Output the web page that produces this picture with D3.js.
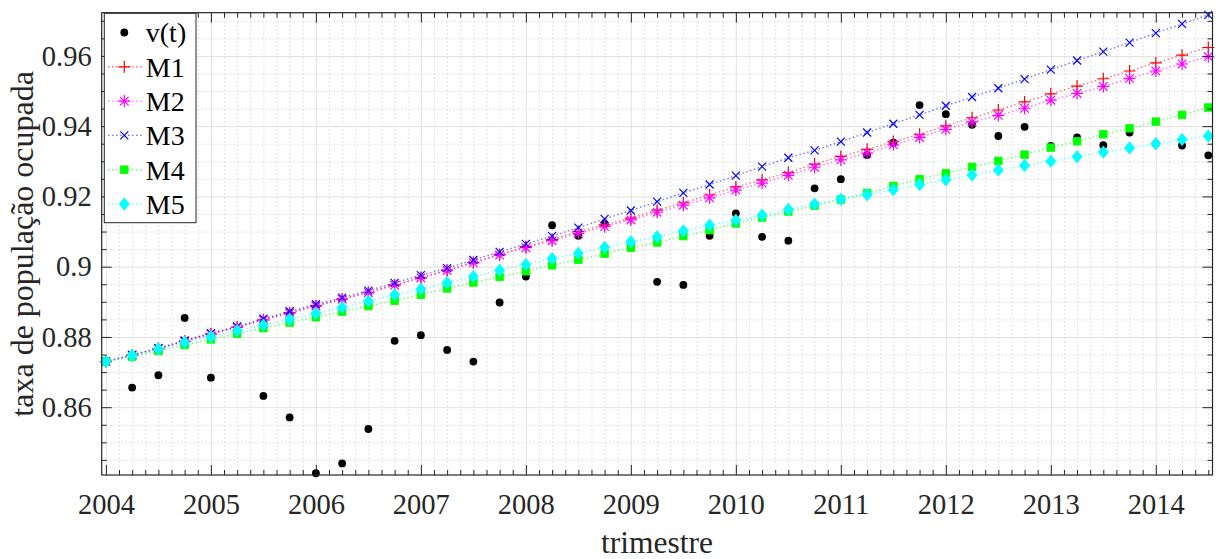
<!DOCTYPE html>
<html>
<head>
<meta charset="utf-8">
<script src="https://cdn.jsdelivr.net/npm/d3@7"></script>
<style>
  body { margin: 0; background: #fff; }
  svg { display: block; font-family: "Liberation Serif", "Times New Roman", serif; }
</style>
</head>
<body>
<div id="chart"></div>
<script>
// quarters (x values)
const quarters = [2004, 2004.25, 2004.5, 2004.75, 2005, 2005.25, 2005.5, 2005.75,
  2006, 2006.25, 2006.5, 2006.75, 2007, 2007.25, 2007.5, 2007.75,
  2008, 2008.25, 2008.5, 2008.75, 2009, 2009.25, 2009.5, 2009.75,
  2010, 2010.25, 2010.5, 2010.75, 2011, 2011.25, 2011.5, 2011.75,
  2012, 2012.25, 2012.5, 2012.75, 2013, 2013.25, 2013.5, 2013.75,
  2014, 2014.25, 2014.5];

// observed rate v(t)
const vObs = [0.8730, 0.8656, 0.8691, 0.8854, 0.8684, 0.8814, 0.8632, 0.8571,
  0.8412, 0.8440, 0.8538, 0.8789, 0.8805, 0.8763, 0.8730, 0.8898,
  0.8972, 0.9118, 0.9088, 0.9122, 0.9058, 0.8957, 0.8948, 0.9088,
  0.9152, 0.9085, 0.9074, 0.9223, 0.9249, 0.9318, 0.9353, 0.9460,
  0.9434, 0.9404, 0.9372, 0.9398, 0.9344, 0.9368, 0.9346, 0.9382,
  0.9350, 0.9345, 0.9317];

const m1 = [0.8730, 0.8748, 0.8767, 0.8788, 0.8809, 0.8828, 0.8849, 0.8869,
  0.8889, 0.8908, 0.8927, 0.8948, 0.8969, 0.8990, 0.9012, 0.9035,
  0.9057, 0.9078, 0.9100, 0.9119, 0.9138, 0.9161, 0.9182, 0.9204,
  0.9227, 0.9247, 0.9268, 0.9292, 0.9314, 0.9334, 0.9356, 0.9377,
  0.9401, 0.9424, 0.9446, 0.9469, 0.9492, 0.9514, 0.9535, 0.9557,
  0.9580, 0.9602, 0.9624];

const m2 = [0.8730, 0.8748, 0.8767, 0.8787, 0.8808, 0.8827, 0.8848, 0.8868,
  0.8888, 0.8907, 0.8926, 0.8947, 0.8968, 0.8989, 0.9011, 0.9033,
  0.9054, 0.9074, 0.9095, 0.9114, 0.9133, 0.9155, 0.9175, 0.9196,
  0.9218, 0.9238, 0.9260, 0.9283, 0.9304, 0.9323, 0.9347, 0.9368,
  0.9391, 0.9412, 0.9431, 0.9451, 0.9474, 0.9493, 0.9513, 0.9536,
  0.9557, 0.9577, 0.9598];

const m3 = [0.8730, 0.8749, 0.8768, 0.8790, 0.8811, 0.8830, 0.8852, 0.8873,
  0.8893, 0.8912, 0.8932, 0.8954, 0.8976, 0.8996, 0.9019, 0.9042,
  0.9065, 0.9087, 0.9111, 0.9136, 0.9160, 0.9185, 0.9210, 0.9234,
  0.9259, 0.9285, 0.9310, 0.9331, 0.9356, 0.9382, 0.9407, 0.9432,
  0.9458, 0.9483, 0.9508, 0.9534, 0.9561, 0.9587, 0.9612, 0.9638,
  0.9665, 0.9691, 0.9717];

const m4 = [0.8730, 0.8744, 0.8760, 0.8777, 0.8793, 0.8809, 0.8825, 0.8841,
  0.8856, 0.8872, 0.8888, 0.8903, 0.8920, 0.8938, 0.8955, 0.8971,
  0.8987, 0.9004, 0.9020, 0.9037, 0.9054, 0.9069, 0.9087, 0.9104,
  0.9123, 0.9140, 0.9157, 0.9174, 0.9191, 0.9210, 0.9230, 0.9249,
  0.9266, 0.9284, 0.9301, 0.9319, 0.9339, 0.9357, 0.9377, 0.9394,
  0.9413, 0.9432, 0.9453];

const m5 = [0.8730, 0.8747, 0.8766, 0.8784, 0.8801, 0.8818, 0.8834, 0.8850,
  0.8867, 0.8884, 0.8902, 0.8920, 0.8936, 0.8954, 0.8972, 0.8990,
  0.9006, 0.9023, 0.9038, 0.9055, 0.9071, 0.9085, 0.9102, 0.9118,
  0.9132, 0.9147, 0.9163, 0.9178, 0.9192, 0.9205, 0.9219, 0.9234,
  0.9247, 0.9261, 0.9275, 0.9288, 0.9300, 0.9313, 0.9326, 0.9338,
  0.9350, 0.9362, 0.9372];

const seriesNames = ['v(t)', 'M1', 'M2', 'M3', 'M4', 'M5'];
const yearTicks = [2004, 2005, 2006, 2007, 2008, 2009, 2010, 2011, 2012, 2013, 2014];
const yTicks = [0.86, 0.88, 0.90, 0.92, 0.94, 0.96];
const yTickLabels = ['0.86', '0.88', '0.9', '0.92', '0.94', '0.96'];
const xLabel = 'trimestre';
const yLabel = 'taxa de população ocupada';

// styling per series
const styles = [
  {color: '#000000', marker: 'dot', line: false},
  {color: '#ff0000', marker: 'plus', line: true},
  {color: '#ff00ff', marker: 'star', line: true},
  {color: '#0000ff', marker: 'cross', line: true},
  {color: '#00ff00', marker: 'square', line: true},
  {color: '#00ffff', marker: 'diamond', line: true}
];
const seriesValues = [vObs, m1, m2, m3, m4, m5];

const config = {
  containerWidth: 1216,
  containerHeight: 559,
  margin: {top: 12.7, right: 3.5, bottom: 84, left: 101.7}
};
const width = config.containerWidth - config.margin.left - config.margin.right;
const height = config.containerHeight - config.margin.top - config.margin.bottom;

const svg = d3.select('#chart').append('svg')
  .attr('width', config.containerWidth)
  .attr('height', config.containerHeight);

const chart = svg.append('g')
  .attr('transform', `translate(${config.margin.left},${config.margin.top})`);

const x = d3.scaleLinear().domain([2003.96, 2014.54]).range([0, width]);
const y = d3.scaleLinear().domain([0.8407, 0.9723]).range([height, 0]);

const xMinor = d3.range(2004, 2014.5001, 0.125).filter(d => d % 1 !== 0);
const yMinor = d3.range(0.845, 0.9701, 0.005).filter(d => Math.abs(d * 50 - Math.round(d * 50)) > 1e-6);

// minor grid (dotted)
chart.append('g').attr('class', 'grid-minor')
  .attr('transform', `translate(0,${height})`)
  .call(d3.axisBottom(x).tickValues(xMinor).tickSize(-height).tickFormat(''));
chart.append('g').attr('class', 'grid-minor')
  .call(d3.axisLeft(y).tickValues(yMinor).tickSize(-width).tickFormat(''));
chart.selectAll('.grid-minor line')
  .attr('stroke', '#cfcfcf').attr('stroke-width', 0.8).attr('stroke-dasharray', '1.5,2.5');

// major grid
chart.append('g').attr('class', 'grid-major')
  .attr('transform', `translate(0,${height})`)
  .call(d3.axisBottom(x).tickValues(yearTicks).tickSize(-height).tickFormat(''));
chart.append('g').attr('class', 'grid-major')
  .call(d3.axisLeft(y).tickValues(yTicks).tickSize(-width).tickFormat(''));
chart.selectAll('.grid-major line').attr('stroke', '#e1e1e1').attr('stroke-width', 1);
chart.selectAll('.grid-minor .domain, .grid-major .domain').remove();

// marker shapes
function markerPath(type) {
  switch (type) {
    case 'plus': return 'M-6,0H6M0,-6V6';
    case 'cross': return 'M-4,-4L4,4M-4,4L4,-4';
    case 'star': return 'M-6,0H6M0,-6V6M-4.3,-4.3L4.3,4.3M-4.3,4.3L4.3,-4.3';
    case 'square': return 'M-3.8,-3.8H3.8V3.8H-3.8Z';
    case 'diamond': return 'M0,-6.2L5,0L0,6.2L-5,0Z';
    default: return '';
  }
}

function drawMarker(sel, st) {
  if (st.marker === 'dot') {
    sel.append('circle').attr('r', 3.9).attr('fill', st.color);
  } else if (st.marker === 'square' || st.marker === 'diamond') {
    sel.append('path').attr('d', markerPath(st.marker)).attr('fill', st.color).attr('stroke', st.color).attr('stroke-width', 0.8);
  } else {
    sel.append('path').attr('d', markerPath(st.marker)).attr('fill', 'none')
      .attr('stroke', st.color).attr('stroke-width', 1.2);
  }
}

const line = d3.line().x(d => x(d[0])).y(d => y(d[1]));

seriesValues.forEach((vals, i) => {
  const st = styles[i];
  const pts = quarters.map((q, k) => [q, vals[k]]);
  const g = chart.append('g').attr('class', 'series');
  if (st.line) {
    g.append('path').datum(pts)
      .attr('d', line)
      .attr('fill', 'none')
      .attr('stroke', st.color)
      .attr('stroke-opacity', 0.55)
      .attr('stroke-width', 1.4)
      .attr('stroke-dasharray', '1.5,2.5');
  }
  g.selectAll('.mk').data(pts).join('g')
    .attr('class', 'mk')
    .attr('transform', d => `translate(${x(d[0])},${y(d[1])})`)
    .each(function() { drawMarker(d3.select(this), st); });
});

// axes: ticks inward on all four sides
const axisColor = '#262626';
function tickAxis(axisFn, scale, values, size, tr) {
  const g = chart.append('g').attr('class', 'ticks');
  if (tr) g.attr('transform', tr);
  g.call(axisFn(scale).tickValues(values).tickSize(size).tickFormat(''));
  g.select('.domain').remove();
  g.selectAll('line').attr('stroke', axisColor).attr('stroke-width', 1);
}
tickAxis(d3.axisBottom, x, yearTicks, -10, `translate(0,${height})`);
tickAxis(d3.axisBottom, x, xMinor, -5, `translate(0,${height})`);
tickAxis(d3.axisTop, x, yearTicks, -10);
tickAxis(d3.axisTop, x, xMinor, -5);
tickAxis(d3.axisLeft, y, yTicks, -10);
tickAxis(d3.axisLeft, y, yMinor, -5);
tickAxis(d3.axisRight, y, yTicks, -10, `translate(${width},0)`);
tickAxis(d3.axisRight, y, yMinor, -5, `translate(${width},0)`);

chart.append('rect')
  .attr('width', width).attr('height', height)
  .attr('fill', 'none').attr('stroke', axisColor).attr('stroke-width', 1.2);

// tick labels
const xLab = chart.append('g')
  .attr('transform', `translate(0,${height})`)
  .call(d3.axisBottom(x).tickValues(yearTicks).tickSize(0).tickPadding(19).tickFormat(d3.format('d')));
const yLab = chart.append('g')
  .call(d3.axisLeft(y).tickValues(yTicks).tickSize(0).tickPadding(10)
    .tickFormat((d, i) => yTickLabels[i]));
[xLab, yLab].forEach(g => {
  g.select('.domain').remove();
  g.selectAll('text')
    .attr('font-family', '"Liberation Serif", serif')
    .attr('font-size', 28.5)
    .attr('fill', axisColor);
});

// axis titles
svg.append('text')
  .attr('x', config.margin.left + width / 2)
  .attr('y', 553)
  .attr('text-anchor', 'middle')
  .attr('font-size', 31.5)
  .attr('fill', axisColor)
  .text(xLabel);

svg.append('text')
  .attr('transform', `translate(33,${config.margin.top + height / 2}) rotate(-90)`)
  .attr('text-anchor', 'middle')
  .attr('font-size', 32)
  .attr('fill', axisColor)
  .text(yLabel);

// legend
const legend = chart.append('g').attr('class', 'legend').attr('transform', 'translate(2.6,0.6)');
legend.append('rect')
  .attr('width', 91.7).attr('height', 209.4)
  .attr('fill', '#fff').attr('stroke', axisColor).attr('stroke-width', 1);

seriesNames.forEach((name, i) => {
  const st = styles[i];
  const ly = 19.2 + i * 34.3;
  const row = legend.append('g').attr('transform', `translate(0,${ly})`);
  if (st.line) {
    row.append('line')
      .attr('x1', 3.7).attr('x2', 37.7)
      .attr('stroke', st.color).attr('stroke-opacity', 0.55)
      .attr('stroke-width', 1.4).attr('stroke-dasharray', '1.5,2.5');
  }
  const mk = row.append('g').attr('transform', 'translate(20,0)');
  drawMarker(mk, st);
  row.append('text')
    .attr('x', 41.5)
    .attr('dy', '0.35em')
    .attr('font-size', 28)
    .attr('fill', '#000')
    .text(name);
});
</script>
</body>
</html>
